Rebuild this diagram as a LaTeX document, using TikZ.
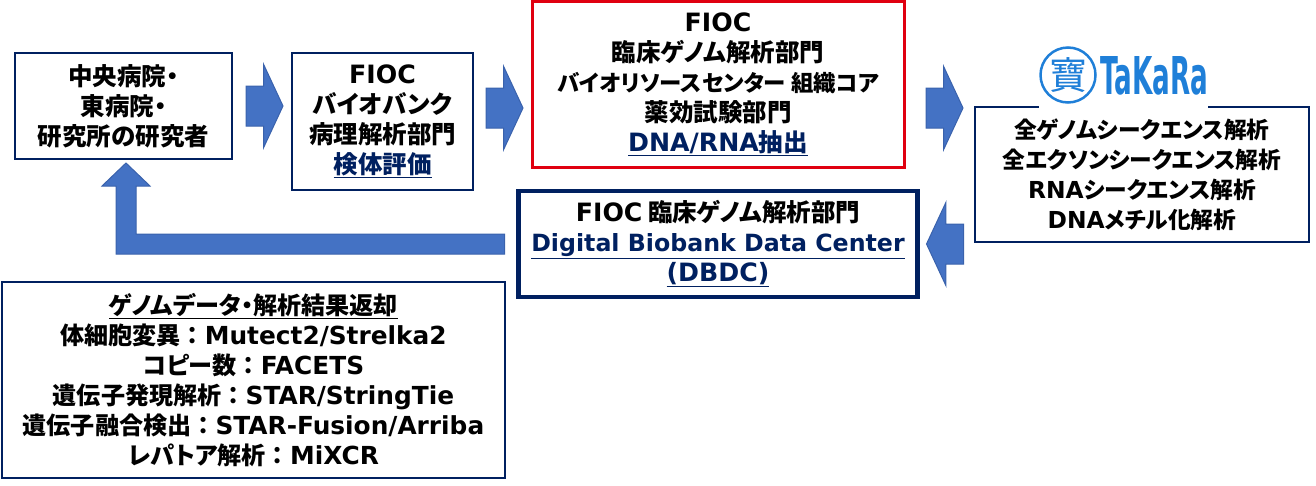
\documentclass[tikz,border=0pt]{standalone}
\usepackage{fontspec}
\setmainfont{Noto Sans CJK JP}[RawFeature=+palt]
\newfontfamily\jpfull{Noto Sans CJK JP}
\newfontfamily\enfont{DejaVu Sans}[Scale=1.03]
\newcommand{\en}[1]{{\enfont #1}}
\newcommand{\sepcolon}{{\jpfull ：}}
\usepackage{xcolor}
\usepackage{tikz}
\usetikzlibrary{shapes,arrows,positioning,calc}
\definecolor{navyline}{HTML}{002060}
\definecolor{redline}{HTML}{E00010}
\definecolor{arrowblue}{HTML}{4472C4}
\definecolor{arrowedge}{HTML}{3A62AC}
\definecolor{logoblue}{HTML}{1F7FD8}

\begin{document}
\begin{tikzpicture}[
    x=1pt, y=-1pt,
    box/.style={rectangle, draw=navyline, line width=2pt, fill=white, outer sep=0pt, inner sep=0pt, align=center, font=\fontsize{24.5}{30}\selectfont\bfseries},
    blockarrow/.style={single arrow, draw=arrowedge, line width=1pt, fill=arrowblue, inner xsep=0pt, inner ysep=19.5pt, outer sep=0pt, minimum height=37pt, minimum width=83pt, single arrow head extend=21.5pt, single arrow tip angle=130},
    bentarrow/.style={draw=arrowedge, line width=1pt, fill=arrowblue}
]
    \useasboundingbox (0,0) rectangle (1316,485);

    % Boxes
    \node[box, minimum width=217pt, minimum height=106pt] (central) at (123.5,106) {中央病院・\\東病院・\\研究所の研究者};
    \node[box, right=60pt of central, yshift=-15.5pt, minimum width=181pt, minimum height=137pt] (biobank) {\en{FIOC}\\バイオバンク\\病理解析部門\\\textcolor{navyline}{\underline{検体評価}}};
    \node[box, draw=redline, line width=3pt, right=59pt of biobank, yshift=37.5pt, minimum width=372pt, minimum height=166pt] (extract) {\en{FIOC}\\臨床ゲノム解析部門\\{\fontsize{22.4}{30}\selectfont バイオリソースセンター 組織コア}\\薬効試験部門\\\textcolor{navyline}{\underline{\en{DNA/RNA}抽出}}};
    \node[box, right=71pt of extract, yshift=-90.5pt, minimum width=334pt, minimum height=135pt, font=\fontsize{22.7}{30}\selectfont\bfseries] (takara) {全ゲノムシークエンス解析\\全エクソンシークエンス解析\\\en{RNA}シークエンス解析\\\en{DNA}メチル化解析};
    \node[box, line width=4.5pt, below=24pt of extract, minimum width=399pt, minimum height=106pt] (dbdc) {\en{FIOC} 臨床ゲノム解析部門\\\textcolor{navyline}{\underline{\fontsize{23}{30}\selectfont\en{Digital Biobank Data Center}}}\\\textcolor{navyline}{\underline{\en{(DBDC)}}}};
    \node[box, minimum width=503pt, minimum height=196pt, font=\fontsize{24.1}{30}\selectfont\bfseries] (result) at (253.5,380) {\underline{ゲノムデータ・解析結果返却}\\体細胞変異\sepcolon\en{Mutect2/Strelka2}\\コピー数\sepcolon\en{FACETS}\\遺伝子発現解析\sepcolon\en{STAR/StringTie}\\遺伝子融合検出\sepcolon\en{STAR-Fusion/Arriba}\\レパトア解析\sepcolon\en{MiXCR}};

    % Logo
    \node[fill=white, minimum width=169pt, minimum height=7pt, inner sep=0pt] (logogap) at (1123.5,107) {};
    \node[circle, draw=logoblue, line width=2.5pt, minimum size=55pt, inner sep=0pt, text=logoblue, font=\fontsize{38}{38}\selectfont] (logomark) at (1068,75) {寶};
    \node[text=logoblue, inner sep=0pt, font=\bfseries] (logotext) at (1154,76) {\resizebox{108pt}{38pt}{\en{TaKaRa}}};

    % Arrows
    \node[blockarrow, right=14pt of central] (arrowa) {};
    \node[blockarrow, right=13pt of biobank, yshift=13.5pt] (arrowb) {};
    \node[blockarrow, right=22pt of extract, yshift=-24pt] (arrowc) {};
    \node[blockarrow, shape border rotate=180, right=9pt of dbdc] (arrowd) {};

    % Return path
    \coordinate (retend) at ($(dbdc.west)+(-14,0)$);
    \coordinate (rettip) at ($(central.south)+(2.5,4)$);
    \draw[bentarrow] (retend) ++(0,-10) -| ($(rettip)+(10,23)$) -- ++(14,0) -- (rettip) -- ++(-24,23) -- ++(14,0) |- ($(retend)+(0,10)$) -- cycle;

\end{tikzpicture}
\end{document}
